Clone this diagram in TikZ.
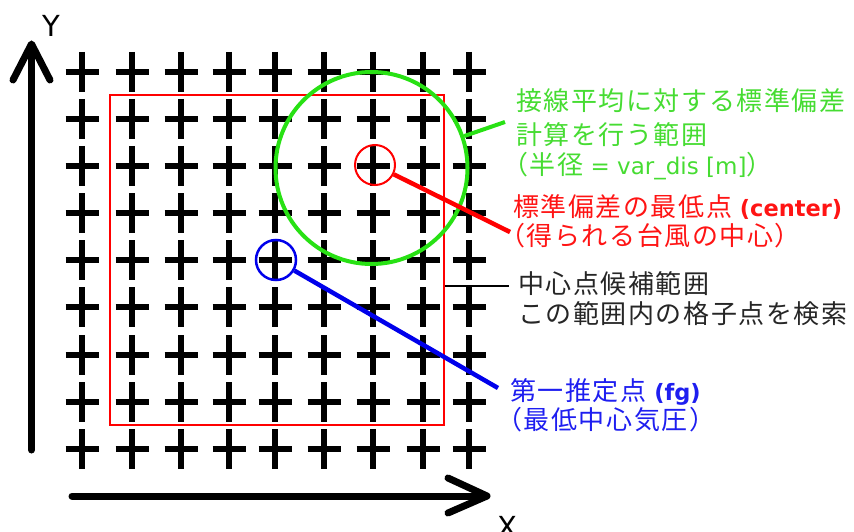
\documentclass[tikz,border=0pt]{standalone}
\usepackage{fontspec}
\setmainfont{DejaVu Sans}
\newfontfamily\jp[LetterSpace=6]{Noto Sans CJK JP}
\newfontfamily\lat{DejaVu Sans}
\definecolor{cgreen}{RGB}{40,225,20}
\definecolor{tgreen}{RGB}{70,220,50}
\definecolor{cred}{RGB}{255,0,0}
\definecolor{tred}{RGB}{255,20,20}
\definecolor{cblue}{RGB}{0,0,235}
\definecolor{tblue}{RGB}{30,30,240}
\newcommand{\jps}{\jp\fontsize{26}{29}\selectfont}
\newcommand{\lts}{\lat\fontsize{23}{29}\selectfont}
\newcommand{\ltb}{\lat\bfseries\fontsize{22.5}{29}\selectfont}
\tikzset{
  gridcross/.style={line width=6.5pt, black},
  axisline/.style={line width=7pt, line cap=round, line join=round, black},
  jptext/.style={anchor=base west, inner sep=0pt, font=\jps},
  ring/.style={circle, inner sep=0pt, fill=none},
  leader/.style={line width=4.5pt},
}
\begin{document}
\begin{tikzpicture}[x=1pt,y=-1pt]
\useasboundingbox (0,0) rectangle (854,532);
% grid of crosses
\foreach \gx in {82,132,181,229,275,324,373,423,469}{
  \foreach \gy in {72,119,166,213,260,307,355,402,449}{
    \draw[gridcross] (\gx-16.5,\gy) -- (\gx+16.5,\gy) (\gx,\gy-20) -- (\gx,\gy+20);
  }
}
% axes
\draw[axisline] (31.5,450) -- (31.5,45);
\draw[axisline] (13,80) -- (31.5,44) -- (50,80);
\draw[axisline] (72,496) -- (486,496);
\draw[axisline] (448,478) -- (487,496) -- (448,513);
\node[font=\lat\fontsize{29}{30}\selectfont, anchor=base, inner sep=0pt] (ylab) at (51,37) {Y};
\node[font=\lat\fontsize{29}{30}\selectfont, anchor=base, inner sep=0pt] (xlab) at (507,537) {X};
% search range
\node[draw=cred, line width=2pt, minimum width=334pt, minimum height=330pt, inner sep=0pt] (range) at (277,260) {};
% variance circle
\node[ring, draw=cgreen, line width=4pt, minimum size=192pt] (area) at (371.5,168) {};
% center point
\node[ring, draw=cred, line width=2pt, minimum size=40pt] (ctr) at (375,165) {};
% first guess
\node[ring, draw=cblue, line width=2.5pt, minimum size=40pt] (fg) at (276,260) {};
% leader end points
\coordinate (gend) at (505,122);
\coordinate (rend) at (510,232);
\coordinate (kend) at (509,286);
\coordinate (bend) at (498,388);
\draw[leader, cgreen, line width=4pt] (area) -- (gend);
\draw[leader, cred] (ctr) -- (rend);
\draw[black, line width=2.5pt] (range.east |- kend) -- (kend);
\draw[leader, cblue] (fg) -- (bend);
% labels
\node[jptext, text=tgreen] (g1) at (516,111) {接線平均に対する標準偏差};
\node[jptext, text=tgreen] (g2) at (516,145) {計算を行う範囲};
\node[jptext, text=tgreen] (g3) at (516,175) {\kern-14pt（半径{\lts{} = var\_dis [m]}）};
\node[jptext, text=tred] (r1) at (513,216) {標準偏差の最低点{\ltb{} (center)}};
\node[jptext, text=tred] (r2) at (513,245) {\kern-14pt（得られる台風の中心）};
\node[jptext, text=black!85] (k1) at (518,293) {中心点候補範囲};
\node[jptext, text=black!85] (k2) at (518,323) {この範囲内の格子点を検索};
\node[jptext, text=tblue] (b1) at (510,400) {第一推定点{\ltb{} (fg)}};
\node[jptext, text=tblue] (b2) at (510,429) {\kern-14pt（最低中心気圧）};
\end{tikzpicture}
\end{document}
